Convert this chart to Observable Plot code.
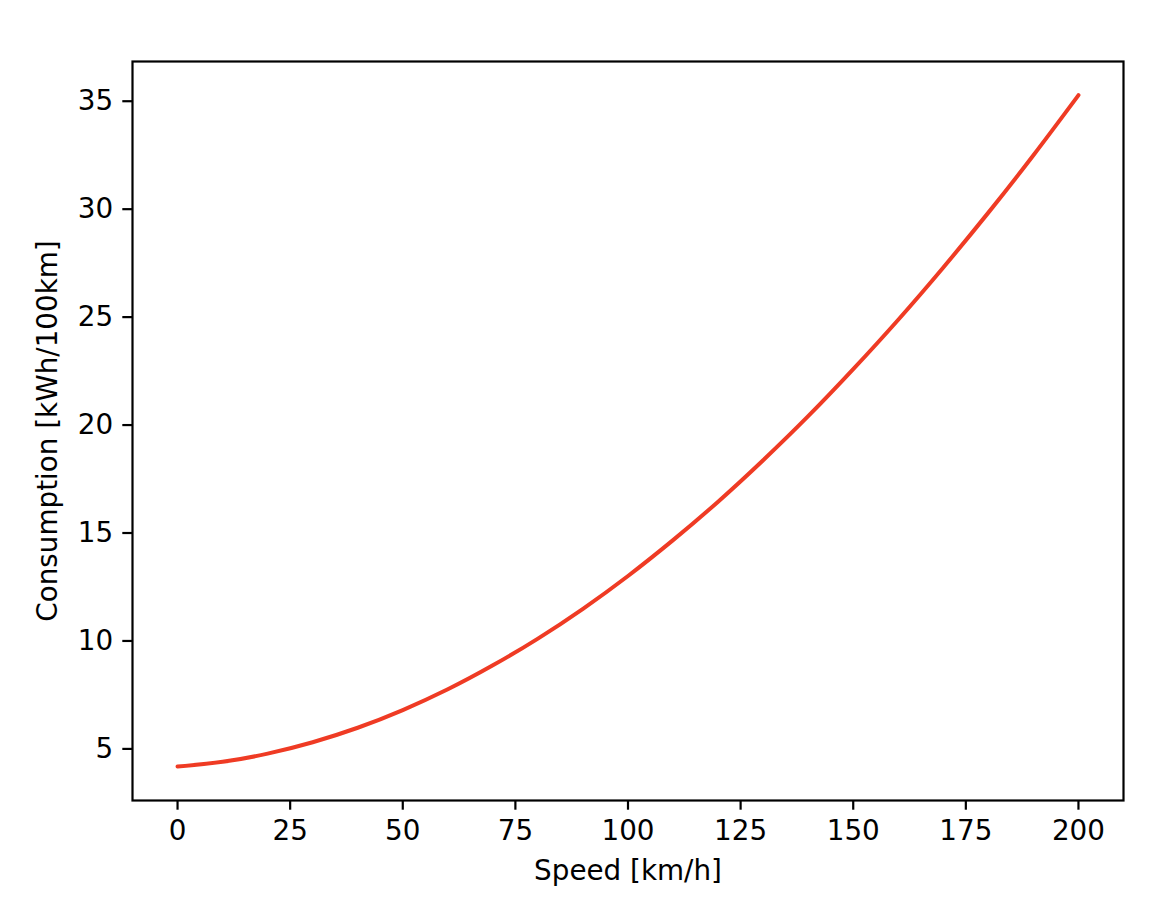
<!DOCTYPE html>
<html>
<head>
<meta charset="utf-8">
<script src="https://cdn.jsdelivr.net/npm/d3@7"></script>
<script src="https://cdn.jsdelivr.net/npm/@observablehq/plot@0.6"></script>
<style>
  html, body { margin: 0; padding: 0; background: white; }
  #chart { width: 1164px; height: 898px; }
</style>
</head>
<body>
<div id="chart"></div>
<script>
// Speed [km/h]
const speed = [0, 10, 20, 30, 40, 50, 60, 70, 80, 90, 100, 110, 120, 130, 140, 150, 160, 170, 180, 190, 200];
// Consumption [kWh/100km]
const consumption = [4.18, 4.40, 4.78, 5.31, 5.98, 6.80, 7.76, 8.87, 10.11, 11.49, 13.01, 14.67, 16.45, 18.37, 20.41, 22.59, 24.88, 27.30, 29.84, 32.50, 35.28];

const xTicks = [0, 25, 50, 75, 100, 125, 150, 175, 200];
const yTicks = [5, 10, 15, 20, 25, 30, 35];
const xLabel = "Speed [km/h]";
const yLabel = "Consumption [kWh/100km]";

const table = speed.map((s, i) => ({speed: s, consumption: consumption[i]}));

const fs = 27.8;
const chart = Plot.plot({
  width: 1164,
  height: 898,
  marginLeft: 132,
  marginRight: 41,
  marginTop: 61,
  marginBottom: 98,
  style: {fontFamily: "DejaVu Sans", fontSize: fs + "px", background: "white", color: "black"},
  x: {domain: [-10, 210]},
  y: {domain: [2.61, 36.84]},
  marks: [
    Plot.axisX({ticks: xTicks, tickSize: 9.7, tickPadding: 9.7, fontSize: fs, strokeWidth: 2.2, label: null}),
    Plot.axisY({ticks: yTicks, tickSize: 9.7, tickPadding: 9.7, fontSize: fs, strokeWidth: 2.2, label: null}),
    Plot.line(table, {x: "speed", y: "consumption", stroke: "#ef3b24", strokeWidth: 4, curve: "natural"}),
    Plot.frame({stroke: "black", strokeWidth: 2.2}),
    Plot.text([xLabel], {text: d => d, frameAnchor: "bottom", dy: 71, lineAnchor: "middle", textAnchor: "middle", fontSize: fs, fill: "black"}),
    Plot.text([yLabel], {text: d => d, frameAnchor: "left", dx: -84, rotate: -90, lineAnchor: "middle", textAnchor: "middle", fontSize: fs, fill: "black"})
  ]
});
document.getElementById("chart").appendChild(chart);
</script>
</body>
</html>
